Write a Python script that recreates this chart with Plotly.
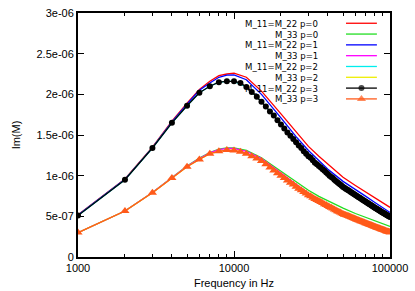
import plotly.graph_objects as go

# ---------------- data (values in units of 1e-6) ----------------
FREQ = [1000, 2000, 3000, 4000, 5000, 6000, 7000, 8000, 9000, 10000,
        11000, 12000, 13000, 14000, 15000, 16000, 17000, 18000, 19000, 20000,
        21000, 22000, 23000, 24000, 25000, 26000, 27000, 28000, 29000, 30000,
        31000, 32000, 33000, 34000, 35000, 36000, 37000, 38000, 39000, 40000,
        41000, 42000, 43000, 44000, 45000, 46000, 47000, 48000, 49000, 50000,
        51000, 52000, 53000, 54000, 55000, 56000, 57000, 58000, 59000, 60000,
        61000, 62000, 63000, 64000, 65000, 66000, 67000, 68000, 69000, 70000,
        71000, 72000, 73000, 74000, 75000, 76000, 77000, 78000, 79000, 80000,
        81000, 82000, 83000, 84000, 85000, 86000, 87000, 88000, 89000, 90000,
        91000, 92000, 93000, 94000, 95000, 96000, 97000, 98000, 99000, 100000]

FREQ_SUB = [1000, 2000, 3000, 4000, 5000, 6000, 7000, 8000, 9000, 10000,
            12000, 15000, 20000, 25000, 30000, 35000, 40000, 50000, 60000,
            70000, 80000, 90000, 100000]

M11_P0 = [0.52, 0.96, 1.35, 1.67, 1.89, 2.06, 2.16, 2.23, 2.25, 2.26, 2.21, 2.04,
          1.76, 1.54, 1.36, 1.24, 1.14, 0.98, 0.88, 0.80, 0.726, 0.665, 0.61]
M33_P0 = [0.30, 0.566, 0.792, 0.975, 1.12, 1.215, 1.285, 1.325, 1.34, 1.34, 1.31, 1.22,
          1.05, 0.92, 0.82, 0.745, 0.69, 0.60, 0.535, 0.485, 0.44, 0.405, 0.375]
M11_P1 = [0.515, 0.955, 1.345, 1.66, 1.88, 2.05, 2.14, 2.21, 2.235, 2.24, 2.18, 2.00,
          1.71, 1.48, 1.31, 1.18, 1.08, 0.93, 0.825, 0.745, 0.671, 0.605, 0.548]
M33_P1 = [0.30, 0.566, 0.792, 0.973, 1.115, 1.21, 1.28, 1.32, 1.335, 1.335, 1.30, 1.21,
          1.03, 0.89, 0.785, 0.71, 0.65, 0.55, 0.49, 0.44, 0.395, 0.36, 0.33]
M11_P2 = [0.51, 0.95, 1.34, 1.65, 1.86, 2.02, 2.10, 2.15, 2.16, 2.16, 2.09, 1.91,
          1.63, 1.41, 1.24, 1.12, 1.02, 0.86, 0.762, 0.678, 0.606, 0.545, 0.493]
M33_P2 = [0.30, 0.565, 0.79, 0.97, 1.11, 1.20, 1.27, 1.30, 1.315, 1.31, 1.27, 1.18,
          1.00, 0.865, 0.76, 0.687, 0.626, 0.528, 0.467, 0.416, 0.372, 0.334, 0.302]

M11_P3 = [0.51, 0.95, 1.34, 1.65, 1.86, 2.02, 2.10, 2.15, 2.16, 2.16,
          2.14, 2.09, 2.03, 1.97, 1.91, 1.85, 1.79, 1.74, 1.68, 1.63,
          1.58, 1.53, 1.49, 1.45, 1.41, 1.37, 1.34, 1.30, 1.27, 1.24,
          1.22, 1.19, 1.16, 1.14, 1.12, 1.10, 1.08, 1.06, 1.04, 1.02,
          1.00, 0.985, 0.97, 0.95, 0.935, 0.92, 0.905, 0.89, 0.875, 0.86,
          0.85, 0.84, 0.83, 0.82, 0.81, 0.80, 0.79, 0.78, 0.77, 0.762,
          0.753, 0.744, 0.735, 0.727, 0.718, 0.71, 0.702, 0.694, 0.686, 0.678,
          0.67, 0.663, 0.655, 0.648, 0.641, 0.634, 0.627, 0.62, 0.613, 0.606,
          0.60, 0.593, 0.587, 0.581, 0.575, 0.569, 0.563, 0.557, 0.551, 0.545,
          0.54, 0.534, 0.529, 0.523, 0.518, 0.513, 0.508, 0.503, 0.498, 0.493]
M33_P3 = [0.30, 0.565, 0.79, 0.97, 1.11, 1.20, 1.27, 1.30, 1.315, 1.31,
          1.295, 1.27, 1.24, 1.21, 1.18, 1.14, 1.10, 1.065, 1.03, 1.00,
          0.97, 0.94, 0.914, 0.89, 0.865, 0.84, 0.822, 0.80, 0.78, 0.76,
          0.748, 0.73, 0.712, 0.70, 0.687, 0.675, 0.663, 0.65, 0.638, 0.626,
          0.614, 0.604, 0.595, 0.583, 0.574, 0.564, 0.555, 0.546, 0.537, 0.528,
          0.521, 0.515, 0.509, 0.503, 0.497, 0.491, 0.485, 0.479, 0.472, 0.467,
          0.462, 0.456, 0.451, 0.446, 0.44, 0.436, 0.431, 0.426, 0.421, 0.416,
          0.411, 0.407, 0.402, 0.398, 0.393, 0.389, 0.385, 0.38, 0.376, 0.372,
          0.368, 0.364, 0.36, 0.356, 0.353, 0.349, 0.345, 0.342, 0.338, 0.334,
          0.331, 0.328, 0.325, 0.321, 0.318, 0.315, 0.312, 0.309, 0.306, 0.302]

LABELS = ["M_11=M_22 p=0", "M_33 p=0", "M_11=M_22 p=1", "M_33 p=1",
          "M_11=M_22 p=2", "M_33 p=2", "M_11=M_22 p=3", "M_33 p=3"]

Y_TICKS = [0, 0.5e-6, 1e-6, 1.5e-6, 2e-6, 2.5e-6, 3e-6]
Y_TICKTEXT = ["0", "5e-07", "1e-06", "1.5e-06", "2e-06", "2.5e-06", "3e-06"]
X_TICKS = [1000, 10000, 100000]
X_TICKTEXT = ["1000", "10000", "100000"]

UNIT = 1e-6

# ---------------- styling ----------------
COLORS = ["#ff0000", "#22dd22", "#0000ff", "#ff00ff",
          "#00eeee", "#eeee00", "#000000", "#ff5a1a"]
SYMBOLS = [None, None, None, None, None, None, "circle", "triangle-up"]
FONT = "Liberation Sans, Arial, sans-serif"
KEY_FONT = "Liberation Sans Narrow, DejaVu Sans Condensed, Liberation Sans, sans-serif"

series = [
    (FREQ_SUB, M11_P0), (FREQ_SUB, M33_P0), (FREQ_SUB, M11_P1), (FREQ_SUB, M33_P1),
    (FREQ_SUB, M11_P2), (FREQ_SUB, M33_P2), (FREQ, M11_P3), (FREQ, M33_P3),
]

fig = go.Figure()
for (xs, ys), col, sym, lab in zip(series, COLORS, SYMBOLS, LABELS):
    kw = dict(x=xs, y=[v * UNIT for v in ys], name=lab, showlegend=False,
              hoverinfo="skip", line=dict(color=col, width=1.3))
    if sym:
        kw["mode"] = "lines+markers"
        kw["marker"] = dict(symbol=sym, size=6 if sym == "circle" else 8, color=col,
                            line=dict(width=0))
    else:
        kw["mode"] = "lines"
    fig.add_trace(go.Scatter(**kw))

# ---------------- gnuplot-style key (text on left, sample on right) ----------------
KEY_TEXT_X = 0.772
KEY_X0, KEY_X1 = 0.859, 0.958
KEY_Y0, KEY_DY = 0.958, 0.0443
annotations = []
for i, (lab, col, sym) in enumerate(zip(LABELS, COLORS, SYMBOLS)):
    yy = KEY_Y0 - i * KEY_DY
    annotations.append(dict(x=KEY_TEXT_X, y=yy, xref="paper", yref="paper",
                            text=lab, showarrow=False, xanchor="right",
                            yanchor="middle", borderpad=0,
                            font=dict(family=KEY_FONT, size=9.5, color="#000")))
    kw = dict(x=[KEY_X0, (KEY_X0 + KEY_X1) / 2, KEY_X1], y=[yy, yy, yy],
              xaxis="x2", yaxis="y2", showlegend=False, hoverinfo="skip",
              line=dict(color=col, width=1.3))
    if sym:
        kw["mode"] = "lines+markers"
        kw["marker"] = dict(symbol=sym, size=[0, 6 if sym == "circle" else 8, 0],
                            color=col, line=dict(width=0))
    else:
        kw["mode"] = "lines"
    fig.add_trace(go.Scatter(**kw))

fig.update_layout(
    width=415, height=291,
    margin=dict(l=78, r=25, t=13, b=34, autoexpand=False),
    paper_bgcolor="white", plot_bgcolor="white",
    font=dict(family=FONT, size=11, color="#000"),
    annotations=annotations,
    xaxis=dict(type="log", range=[3, 5], tickvals=X_TICKS, ticktext=X_TICKTEXT,
               ticks="inside", ticklen=6, tickwidth=1, tickcolor="#000",
               showline=True, linecolor="#000", linewidth=2, mirror="allticks",
               showgrid=False, zeroline=False, tickfont=dict(size=11),
               automargin=False,
               title=dict(text="Frequency in Hz", font=dict(size=11), standoff=6),
               minor=dict(ticks="inside", ticklen=3, tickcolor="#000", dtick="D1",
                          showgrid=False)),
    yaxis=dict(range=[0, 3e-6], tickvals=Y_TICKS, ticktext=Y_TICKTEXT,
               ticks="inside", ticklen=6, tickwidth=1, tickcolor="#000",
               showline=True, linecolor="#000", linewidth=2, mirror="allticks",
               showgrid=False, zeroline=False, tickfont=dict(size=11),
               automargin=False,
               title=dict(text="Im(M)", font=dict(size=11), standoff=14)),
    xaxis2=dict(overlaying="x", range=[0, 1], visible=False),
    yaxis2=dict(overlaying="y", range=[0, 1], visible=False),
)

fig.write_html("out.html", config={"displayModeBar": False},
               post_script="document.body.style.margin='0';document.body.style.padding='0';")
